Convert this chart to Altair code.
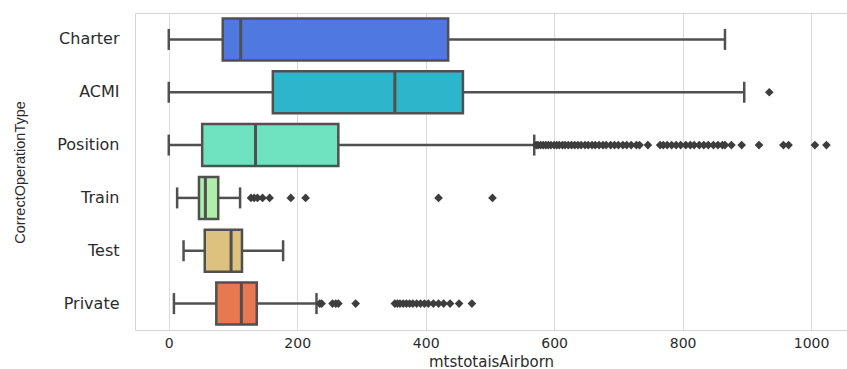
import altair as alt
import pandas as pd

categories = ["Charter", "ACMI", "Position", "Train", "Test", "Private"]
box_colors = ["#4f79e0", "#2db5cb", "#6fe3c0", "#aeedaa", "#ddc17e", "#e8784f"]

lower = [0, 0, 0, 13, 23, 8]
q1 = [84, 162, 52, 47, 56, 74]
median = [112, 352, 135, 57, 97, 113]
q3 = [435, 458, 264, 77, 114, 137]
upper = [866, 896, 569, 111, 178, 230]

out_charter = []
out_acmi = [935]
out_position = [572, 575, 579, 583, 587, 591, 595, 600, 604, 608, 613, 617, 622,
                627, 632, 637, 642, 648, 653, 659, 664, 670, 676, 681, 688, 694,
                700, 707, 713, 720, 728, 733, 746, 765, 770, 776, 783, 790, 797,
                805, 812, 818, 826, 833, 840, 848, 855, 862, 866, 876, 892, 919,
                957, 965, 1006, 1024]
out_train = [128, 133, 138, 146, 157, 190, 213, 420, 504]
out_test = []
out_private = [235, 238, 255, 260, 264, 291, 352, 356, 360, 365, 370, 375, 380,
               386, 392, 398, 404, 412, 420, 428, 438, 452, 472]

stats = pd.DataFrame({"cat": categories, "lower": lower, "q1": q1,
                      "median": median, "q3": q3, "upper": upper})
out_lists = [out_charter, out_acmi, out_position, out_train, out_test, out_private]
outliers = pd.DataFrame([{"cat": c, "value": v}
                         for c, vals in zip(categories, out_lists) for v in vals])

LINE = "#505050"
xscale = alt.Scale(domain=[-52.6, 1056], nice=False, zero=False)
xaxis = alt.Axis(values=[0, 200, 400, 600, 800, 1000], format="d", grid=True,
                 gridColor="#dcdcdc", gridWidth=1, domain=False, ticks=False,
                 labelFont="DejaVu Sans", labelFontSize=14, labelColor="#2b2b2b",
                 labelPadding=6, title="mtstotaisAirborn", titleFont="DejaVu Sans",
                 titleFontSize=15, titleFontWeight="normal", titleColor="#2b2b2b",
                 titleY=31, titleBaseline="middle")
yaxis = alt.Axis(grid=False, domain=False, ticks=False, labelFont="DejaVu Sans",
                 labelFontSize=16, labelColor="#2b2b2b", labelPadding=16,
                 title="CorrectOperationType", titleFont="Liberation Sans",
                 titleFontSize=14.5, titleFontWeight="normal", titleColor="#2b2b2b",
                 titleX=-115, titleY=159, titleAngle=270, titleAlign="center",
                 titleBaseline="middle")


def X(field):
    return alt.X(field, type="quantitative", scale=xscale, axis=xaxis, title="mtstotaisAirborn")


Y = alt.Y("cat:N", sort=categories, scale=alt.Scale(paddingInner=0, paddingOuter=0),
          axis=yaxis, title="CorrectOperationType")

base = alt.Chart(stats)
wl = base.mark_rule(color=LINE, strokeWidth=2.5).encode(x=X("lower"), x2="q1", y=Y)
wh = base.mark_rule(color=LINE, strokeWidth=2.5).encode(x=X("q3"), x2="upper", y=Y)
cl = base.mark_tick(color=LINE, thickness=2.5, size=21, opacity=1).encode(x=X("lower"), y=Y)
ch = base.mark_tick(color=LINE, thickness=2.5, size=21, opacity=1).encode(x=X("upper"), y=Y)
box = base.mark_bar(size=42, stroke=LINE, strokeWidth=2.5, opacity=1).encode(
    x=X("q1"), x2="q3", y=Y,
    color=alt.Color("cat:N", scale=alt.Scale(domain=categories, range=box_colors), legend=None))
med = base.mark_tick(color=LINE, thickness=3, size=42, opacity=1).encode(x=X("median"), y=Y)
pts = alt.Chart(outliers).mark_point(shape="diamond", filled=True, size=75,
                                     color="#3d3d3d", opacity=1).encode(x=X("value"), y=Y)

chart = alt.layer(wl, wh, cl, ch, box, med, pts).properties(
    width=712, height=317, autosize=alt.AutoSizeParams(type="none"),
    padding={"left": 135, "top": 13, "right": 0, "bottom": 39},
    background="white",
).configure_view(stroke="#d4d4d4", strokeWidth=1)

chart.save("out.html", embed_options={"renderer": "svg", "actions": False})
